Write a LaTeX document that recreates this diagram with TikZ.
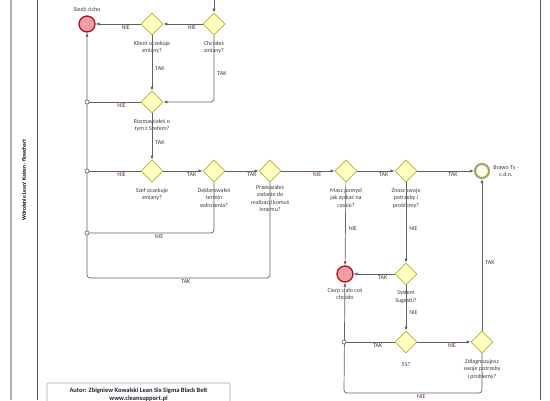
\documentclass[tikz,border=0pt]{standalone}
\usepackage{fontspec}
\setmainfont{Carlito}
\usetikzlibrary{shapes.geometric, arrows.meta}
\definecolor{gatefill}{RGB}{255,255,192}
\definecolor{gateline}{RGB}{178,178,56}
\definecolor{stopfill}{RGB}{238,160,166}
\definecolor{stopline}{RGB}{176,18,30}
\definecolor{goalfill}{RGB}{255,255,238}
\definecolor{goalline}{RGB}{168,164,110}
\definecolor{flowline}{RGB}{96,96,96}
\definecolor{txt}{RGB}{60,60,60}
\definecolor{niecol}{RGB}{110,40,90}
\definecolor{authcol}{RGB}{30,30,45}
\begin{document}
\begin{tikzpicture}[
    x=1pt, y=-1pt,
    font=\fontsize{6}{7.5}\selectfont,
    gate/.style={diamond, draw=gateline, fill=gatefill, line width=0.8pt, minimum size=22pt, inner sep=0pt},
    stopev/.style={circle, draw=stopline, fill=stopfill, line width=1.3pt, minimum size=16pt, inner sep=0pt},
    goalev/.style={circle, draw=goalline, fill=goalfill, line width=2.2pt, minimum size=14pt, inner sep=0pt},
    junct/.style={circle, draw=flowline, fill=white, line width=0.5pt, minimum size=4pt, inner sep=0pt},
    lbl/.style={align=center, text=txt, inner sep=1pt},
    flow/.style={draw=flowline, line width=0.7pt, rounded corners=3pt, -{Latex[length=4pt,width=3.2pt]}},
    link/.style={draw=flowline, line width=0.7pt, rounded corners=3pt},
    nie/.style={text=niecol, inner sep=1pt},
    tak/.style={text=txt, inner sep=1pt}
]
\useasboundingbox (0,0) rectangle (550,400);
\clip (0,0) rectangle (550,400);

% Pool and lane
\draw[draw=black!30, line width=1.4pt] (11,0) -- (11,400);
\draw[draw=black!65, line width=0.7pt] (37,0) -- (37,400);
\draw[draw=black!65, line width=0.7pt] (540,0) -- (540,400);
\node[rotate=90, font=\fontsize{5.5}{6}\selectfont\bfseries] (title) at (24,180) {Wdrożenie Lean/ Kaizen - flowchart};

% Upper part
\coordinate (in) at (214,0);
\node[gate, label={[lbl, label distance=4.5pt]below:{Chciałeś\\zmiany?}}] (d0) at (214,24) {};
\node[gate, label={[lbl, label distance=4.5pt]below:{Klient oczekuje\\zmiany?}}] (d1) at (152,24) {};
\node[stopev, label={[lbl, label distance=3pt]above:{Siedź cicho}}] (siedz) at (87,24) {};
\node[gate, label={[lbl, label distance=4.5pt]below:{Rozmawiałeś o\\tym z Szefem?}}] (d2) at (152,102) {};

% Main row
\node[gate, label={[lbl, label distance=4.5pt]below:{Szef oczekuje\\zmiany?}}] (d3) at (152,171) {};
\node[gate, label={[lbl, label distance=4.5pt]below:{Deklarowałeś\\termin\\wdrożenia?}}] (d4) at (214,171) {};
\node[gate, label={[lbl, label distance=1.5pt]below:{Przekazałeś\\zadanie do\\realizacji komuś\\innemu?}}] (d5) at (270,171) {};
\node[gate, label={[lbl, label distance=4.5pt]below:{Masz pomysł\\jak zyskać na\\czasie?}}] (d6) at (346,171) {};
\node[gate, label={[lbl, label distance=4.5pt]below:{Znasz swoje\\potrzeby i\\problemy?}}] (d7) at (406,171) {};
\node[goalev, label={[lbl, label distance=2pt]right:{Brawo Ty -\\c.d.n.}}] (brawo) at (482,171) {};

% Lower part
\node[stopev, label={[lbl, label distance=4pt]below:{Cierp ciało coś\\chciało}}] (cierp) at (345,274) {};
\node[gate, label={[lbl, label distance=4.5pt]below:{System\\Sugestii?}}] (d8) at (406,274) {};
\node[gate, label={[lbl, label distance=8pt]below:{5S?}}] (d9) at (406,342) {};
\node[gate, label={[lbl, label distance=4.5pt]below:{Zdiagnozujesz\\swoje potrzeby\\i problemy?}}] (d10) at (482,342) {};

% Junctions
\node[junct] (j1) at (87,102) {};
\node[junct] (j2) at (87,171) {};
\node[junct] (j3) at (87,233) {};
\node[junct] (j4) at (344,342) {};
\coordinate (c1) at (87,278);
\coordinate (c2) at (344,393);

% Arrows
\draw[flow] (in) -- (d0);
\draw[flow] (d0) -- node[nie, below, pos=0.27] {NIE} (d1);
\draw[flow] (d1) -- node[nie, below, pos=0.33] {NIE} (siedz);
\draw[flow] (d1) -- node[tak, right, pos=0.6, xshift=2pt] {TAK} (d2);
\draw[flow] (d0) |- node[tak, right, pos=0.29, xshift=2pt] {TAK} (d2);
\draw[link] (d2) -- node[nie, below, pos=0.37] {NIE} (j1);
\draw[flow] (d2) -- node[tak, right, pos=0.64, xshift=2pt] {TAK} (d3);
\draw[link] (d3) -- node[nie, below, pos=0.37] {NIE} (j2);
\draw[flow] (d3) -- node[tak, below, pos=0.72] {TAK} (d4);
\draw[flow] (d4) -- node[tak, below, pos=0.8] {TAK} (d5);
\draw[flow] (d5) -- node[nie, below, pos=0.67] {NIE} (d6);
\draw[flow] (d6) -- node[tak, below, pos=0.71] {TAK} (d7);
\draw[flow] (d7) -- node[tak, below, pos=0.63] {TAK} (brawo);
\draw[link] (d4) |- node[nie, below, pos=0.72] {NIE} (j3);
\draw[flow] (d5) |- node[tak, below, pos=0.73] {TAK} (c1) -- (siedz);
\draw[flow] (d6) -- node[nie, right, pos=0.56, xshift=2pt] {NIE} (cierp);
\draw[flow] (d7) -- node[nie, right, pos=0.57, xshift=2pt] {NIE} (d8);
\draw[flow] (d8) -- node[tak, below, pos=0.29] {TAK} (cierp);
\draw[flow] (d8) -- node[nie, right, pos=0.61, xshift=2pt] {NIE} (d9);
\draw[link] (d9) -- node[tak, below, pos=0.35] {TAK} (j4);
\draw[flow] (d9) -- node[nie, below, pos=0.65] {NIE} (d10);
\draw[flow] (d10) -- node[tak, right, pos=0.45, xshift=2pt] {TAK} (brawo);
\draw[flow] (d10) |- node[nie, below, pos=0.72] {NIE} (c2) -- (cierp);
\node[junct] at (j1) {};
\node[junct] at (j2) {};
\node[junct] at (j3) {};
\node[junct] at (j4) {};

% Author box
\draw[draw=black!35, line width=0.6pt, rounded corners=1pt] (47,383) rectangle (230,410);
\node[text=authcol, align=center, font=\fontsize{6.5}{8.5}\selectfont\bfseries, anchor=north] (autor) at (138.5,384) {Autor: Zbigniew Kowalski Lean Six Sigma Black Belt\\www.cleansupport.pl};

\end{tikzpicture}
\end{document}
